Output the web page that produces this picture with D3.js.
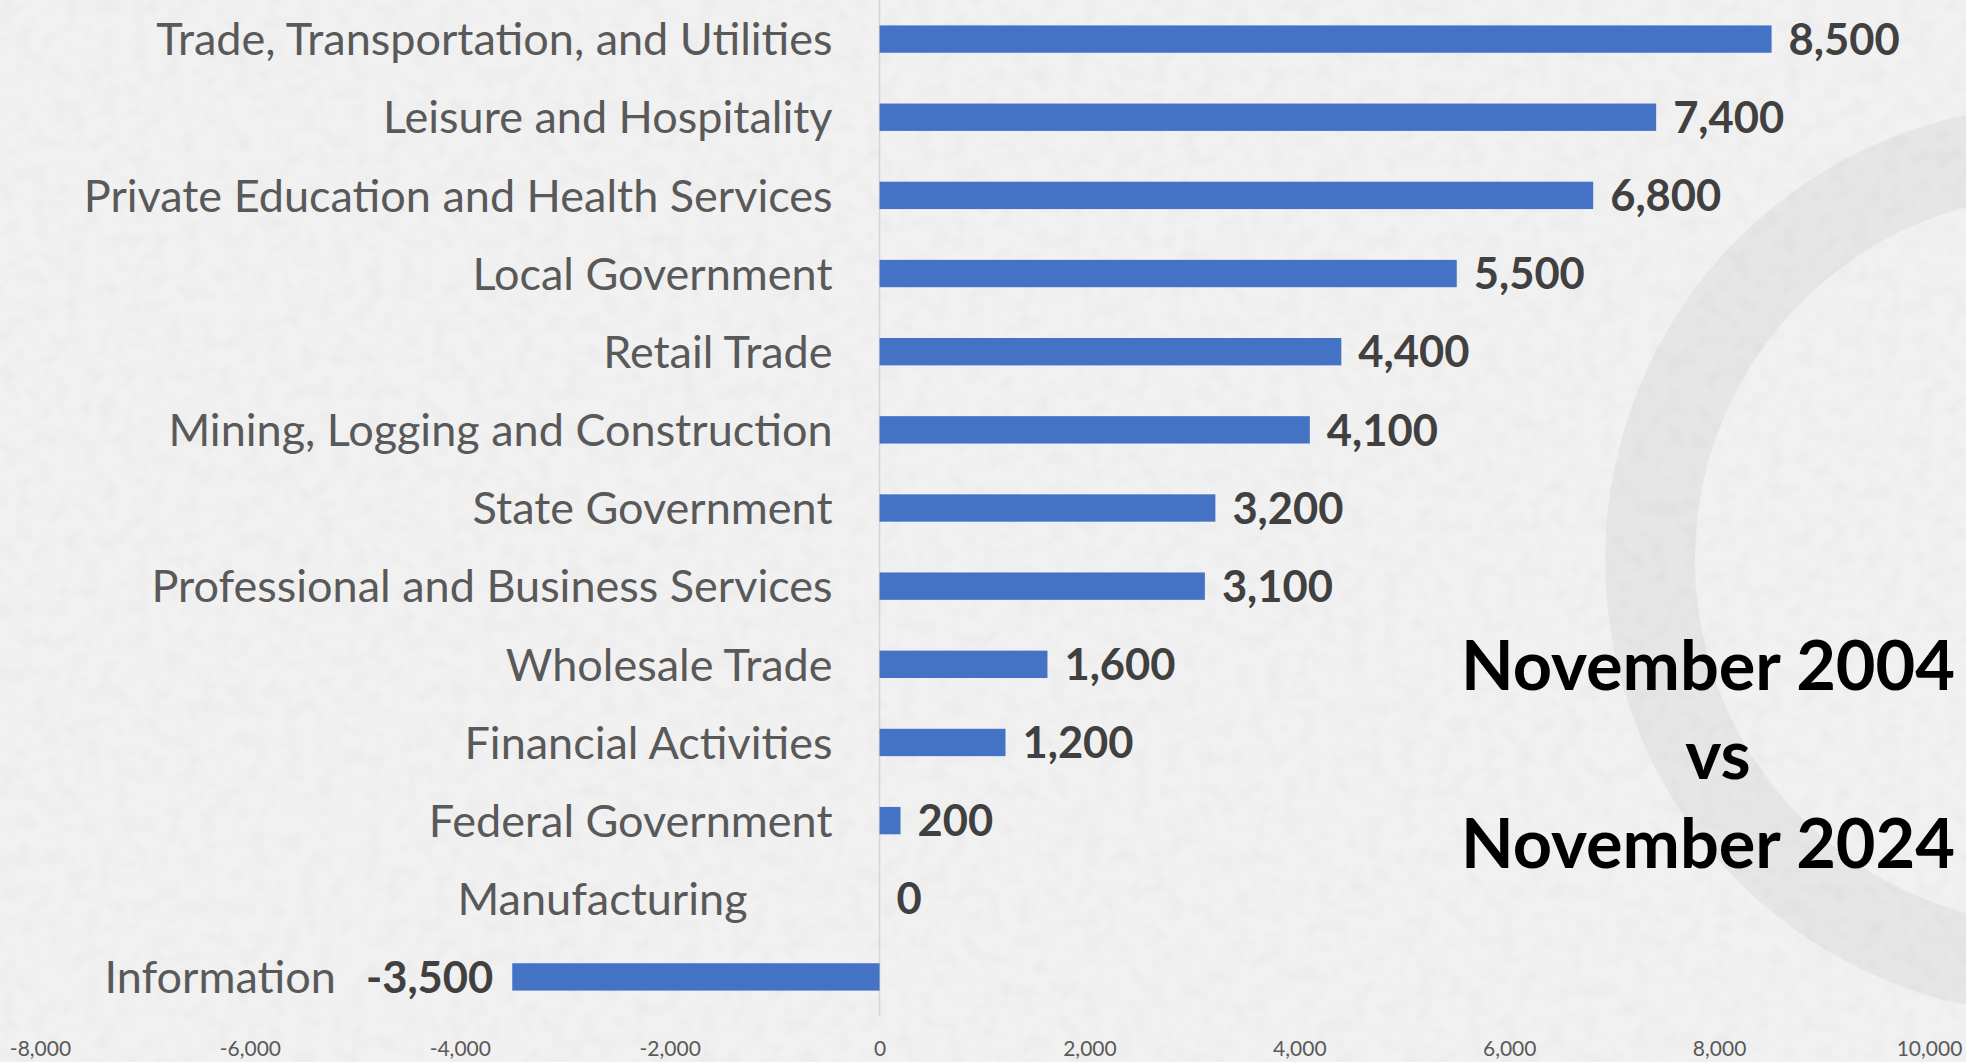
<!DOCTYPE html>
<meta charset="utf-8">
<style>
body {
  margin: 0;
  padding: 0;
  background: #f1f1f1;
}
svg text {
  font-family: Lato, "Open Sans", sans-serif;
}
.cat {
  fill: #595959;
  font-size: 45px;
}
.val {
  fill: #404040;
  font-size: 43.5px;
  font-weight: bold;
}
.tick text {
  fill: #595959;
  font-size: 21px;
}
.title {
  fill: #000;
  font-size: 68.5px;
  font-weight: bold;
}
</style>
<body>
<div id="chart"></div>
<script src="https://d3js.org/d3.v7.min.js"></script>
<script>

var categories = [
  "Trade, Transportation, and Utilities",
  "Leisure and Hospitality",
  "Private Education and Health Services",
  "Local Government",
  "Retail Trade",
  "Mining, Logging and Construction",
  "State Government",
  "Professional and Business Services",
  "Wholesale Trade",
  "Financial Activities",
  "Federal Government",
  "Manufacturing",
  "Information"
];
var values = [8500, 7400, 6800, 5500, 4400, 4100, 3200, 3100, 1600, 1200, 200, 0, -3500];
var tickValues = [-8000, -6000, -4000, -2000, 0, 2000, 4000, 6000, 8000, 10000];
var titleLines = ["November 2004", "vs", "November 2024"];

var width = 1966, height = 1062;

var fmt = d3.formatLocale({
  decimal: ".", thousands: ",", grouping: [3], currency: ["$", ""], minus: "-"
}).format(",");

var data = categories.map(function (c, i) { return { name: c, value: values[i] }; });

var svg = d3.select("#chart").append("svg")
  .attr("width", width)
  .attr("height", height);

// paper-like grain, kept very light
var defs = svg.append("defs");
var grain = defs.append("filter").attr("id", "grain")
  .attr("x", 0).attr("y", 0).attr("width", "100%").attr("height", "100%");
grain.append("feTurbulence")
  .attr("type", "fractalNoise")
  .attr("baseFrequency", 0.06)
  .attr("numOctaves", 2)
  .attr("seed", 4);
grain.append("feColorMatrix")
  .attr("values", "0 0 0 0 0  0 0 0 0 0  0 0 0 0 0  0 0 0 -0.9 0.55");
svg.append("rect")
  .attr("width", width).attr("height", height)
  .attr("filter", "url(#grain)")
  .attr("opacity", 0.05);

// faint watermark in the background
var wm = svg.append("g").attr("transform", "translate(2060,560)");
wm.append("path")
  .attr("d", d3.arc().innerRadius(365).outerRadius(455).startAngle(0).endAngle(2 * Math.PI)())
  .attr("fill", "#000")
  .attr("fill-opacity", 0.045);

var x = d3.scaleLinear()
  .domain([-8000, 10000])
  .range([40, 1929]);

var y = d3.scaleBand()
  .domain(categories)
  .range([0, 1016])
  .paddingInner(0.65)
  .paddingOuter(0.325);

// zero line
svg.append("line")
  .attr("x1", x(0)).attr("x2", x(0))
  .attr("y1", 0).attr("y2", 1016)
  .attr("stroke", "#d4d4d4")
  .attr("stroke-width", 1.5);

svg.append("g")
  .selectAll("rect")
  .data(data)
  .enter().append("rect")
    .attr("x", function (d) { return x(Math.min(0, d.value)); })
    .attr("y", function (d) { return y(d.name); })
    .attr("width", function (d) { return Math.abs(x(d.value) - x(0)); })
    .attr("height", y.bandwidth())
    .attr("fill", "#4472C4");

var vals = svg.append("g")
  .selectAll("text")
  .data(data)
  .enter().append("text")
    .attr("class", "val")
    .attr("x", function (d) { return d.value < 0 ? x(d.value) - 19 : x(d.value) + 17; })
    .attr("y", function (d) { return y(d.name) + y.bandwidth() / 2; })
    .attr("dy", "0.36em")
    .attr("text-anchor", function (d) { return d.value < 0 ? "end" : "start"; })
    .text(function (d) { return fmt(d.value); });

vals.each(function (d) { d.labelWidth = this.getComputedTextLength(); });

svg.append("g")
  .selectAll("text")
  .data(data)
  .enter().append("text")
    .attr("class", "cat")
    .attr("x", function (d) {
      if (d.value < 0) return x(d.value) - 19 - d.labelWidth - 30;
      if (d.value === 0) return x(0) - 132;
      return x(0) - 47;
    })
    .attr("y", function (d) { return y(d.name) + y.bandwidth() / 2; })
    .attr("dy", "0.36em")
    .attr("text-anchor", "end")
    .text(function (d) { return d.name; });

var axis = svg.append("g")
  .attr("transform", "translate(0,1032)")
  .call(d3.axisBottom(x).tickValues(tickValues).tickFormat(fmt).tickSize(0).tickPadding(9));
axis.select(".domain").remove();
axis.selectAll("text").attr("font-family", null).attr("font-size", null);

svg.append("g")
  .selectAll("text")
  .data(titleLines)
  .enter().append("text")
    .attr("class", "title")
    .attr("text-anchor", "middle")
    .attr("x", function (d) { return d === "vs" ? 1718 : 1708; })
    .attr("y", function (d, i) { return 690 + i * 89; })
    .text(function (d) { return d; });

</script>
